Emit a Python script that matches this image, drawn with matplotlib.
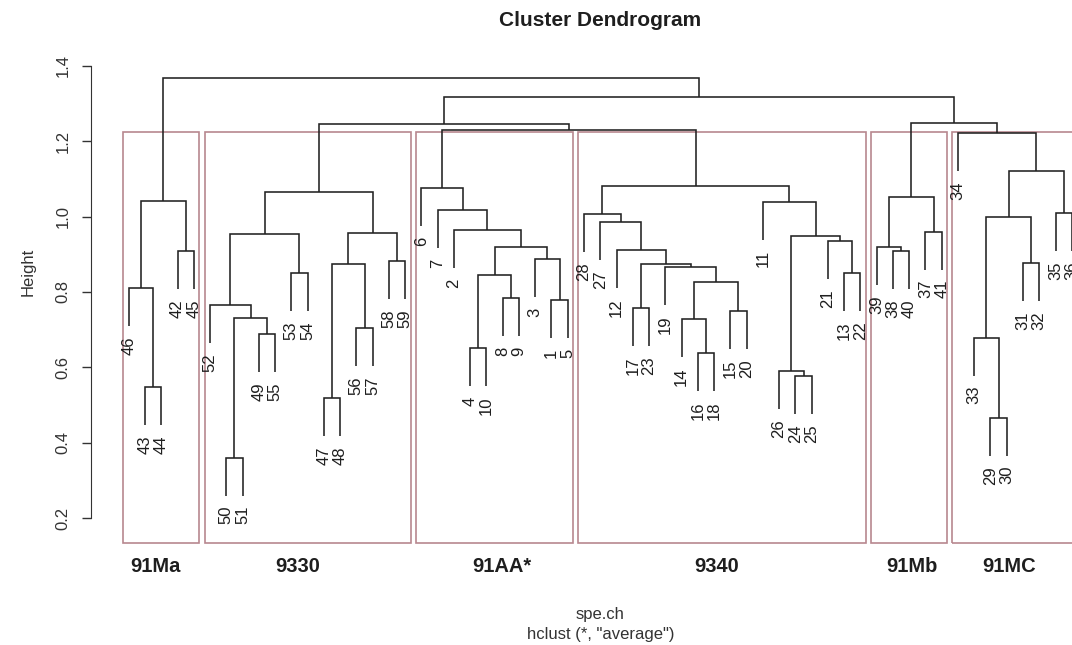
import matplotlib
matplotlib.use("Agg")
import matplotlib.pyplot as plt
from matplotlib.patches import Rectangle

plt.rcParams["font.family"] = ["Liberation Sans", "DejaVu Sans"]

# leaf order as drawn, left to right
leaf_order = [46, 43, 44, 42, 45,
              52, 50, 51, 49, 55, 53, 54, 47, 48, 56, 57, 58, 59,
              6, 7, 2, 4, 10, 8, 9, 3, 1, 5,
              28, 27, 12, 17, 23, 19, 14, 16, 18, 15, 20, 11, 26, 24, 25, 21, 13, 22,
              39, 38, 40, 37, 41,
              34, 33, 29, 30, 31, 32, 35, 36]

# R-style merge table: negative = sample id, positive = earlier step (1-based)
merge_pairs = [
    (-43, -44), (-46, 1), (-42, -45), (2, 3),                      # 1-4
    (-50, -51), (-49, -55), (5, 6), (-52, 7), (-53, -54), (8, 9),  # 5-10
    (-47, -48), (-56, -57), (11, 12), (-58, -59), (13, 14), (10, 15),  # 11-16
    (-4, -10), (-8, -9), (17, 18), (-1, -5), (-3, 20), (19, 21),   # 17-22
    (-2, 22), (-7, 23), (-6, 24),                                  # 23-25
    (-17, -23), (-16, -18), (-14, 27), (-15, -20), (28, 29),       # 26-30
    (-19, 30), (26, 31), (-12, 32), (-27, 33), (-28, 34),          # 31-35
    (-24, -25), (-26, 36), (-13, -22), (-21, 38), (37, 39),        # 36-40
    (-11, 40), (35, 41),                                           # 41-42
    (-38, -40), (-39, 43), (-37, -41), (44, 45),                   # 43-46
    (-29, -30), (-33, 47), (-31, -32), (48, 49), (-35, -36),       # 47-51
    (50, 51), (-34, 52),                                           # 52-53
    (25, 42), (16, 54), (46, 53), (55, 56), (4, 57),               # 54-58
]
merge_heights = [
    0.547, 0.810, 0.908, 1.042,
    0.361, 0.689, 0.730, 0.766, 0.851, 0.953,
    0.518, 0.704, 0.873, 0.882, 0.957, 1.064,
    0.651, 0.783, 0.845, 0.779, 0.887, 0.920,
    0.963, 1.017, 1.075,
    0.757, 0.6375, 0.7285, 0.750, 0.827,
    0.867, 0.8735, 0.911, 0.986, 1.007,
    0.577, 0.591, 0.851, 0.936, 0.949,
    1.039, 1.081,
    0.908, 0.920, 0.960, 1.051,
    0.467, 0.679, 0.876, 0.998, 1.009,
    1.122, 1.221,
    1.229, 1.245, 1.247, 1.318, 1.367,
]

group_names = ["91Ma", "9330", "91AA*", "9340", "91Mb", "91MC"]
group_sizes = [5, 13, 10, 18, 5, 8]
group_label_at = [2.62, 11.41, 23.96, 37.18, 49.17, 55.14]

LINE = "#222222"
BOX = "#b8878f"
TXT = "#1e1e1e"

fig = plt.figure(figsize=(10.72, 6.45), dpi=100)
ax = fig.add_axes([0.0849, 0.1577, 0.9501, 0.7487])
ax.set_xlim(-1.32, 61.32)
ax.set_ylim(0.1338, 1.414)

pos = {lab: i + 1 for i, lab in enumerate(leaf_order)}
hang = 0.1 * (max(merge_heights) - min(merge_heights))
node_x, node_y = {}, {}
leaf_ends = []
for step, ((a, b), h) in enumerate(zip(merge_pairs, merge_heights), start=1):
    ends = []
    for c in (a, b):
        if c < 0:
            x, y0 = pos[-c], h - hang
            leaf_ends.append((-c, x, y0))
        else:
            x, y0 = node_x[c], node_y[c]
        ends.append((x, y0))
    (x1, y1), (x2, y2) = ends
    ax.plot([x1, x1, x2, x2], [y1, h, h, y2], color=LINE, lw=1.15,
            solid_joinstyle="miter", solid_capstyle="butt")
    node_x[step] = (x1 + x2) / 2
    node_y[step] = h

for lab, x, y0 in leaf_ends:
    ax.annotate(str(lab), (x, y0), xytext=(0, -7.5), textcoords="offset points",
                rotation=90, ha="center", va="top", fontsize=12, color=TXT)

# rect.hclust style boxes
hs = sorted(merge_heights, reverse=True)
k = len(group_sizes)
box_top = (hs[k - 2] + hs[k - 1]) / 2
y_bot = ax.get_ylim()[0]
m = [0]
for s in group_sizes:
    m.append(m[-1] + s)
for i in range(k):
    x0, x1 = m[i] + 0.66, m[i + 1] + 0.33
    ax.add_patch(Rectangle((x0, y_bot), x1 - x0, box_top - y_bot, fill=False,
                           edgecolor=BOX, lw=1.2, clip_on=False))

ax.set_xticks(group_label_at, group_names, fontweight="bold", fontsize=14.5, color=TXT)
ax.tick_params(axis="x", length=0, pad=10)

ax.set_yticks([0.2, 0.4, 0.6, 0.8, 1.0, 1.2, 1.4])
ax.set_yticklabels(["0.2", "0.4", "0.6", "0.8", "1.0", "1.2", "1.4"],
                   rotation=90, va="center", fontsize=12, color="#333333")
ax.tick_params(axis="y", direction="out", length=6.5, width=1, color="#333333", pad=8)
for s in ("top", "right", "bottom"):
    ax.spines[s].set_visible(False)
ax.spines["left"].set_bounds(0.2, 1.4)
ax.spines["left"].set_color("#333333")

fig.text(0.56, 1 - 20 / 645, "Cluster Dendrogram", ha="center", va="center",
         fontsize=15, fontweight="bold", color=TXT)
fig.text(28 / 1072, 1 - 272 / 645, "Height", rotation=90, ha="center", va="center",
         fontsize=12, color="#333333")
fig.text(0.56, 1 - 614 / 645, "spe.ch", ha="center", va="center", fontsize=12, color="#333333")
fig.text(0.56, 1 - 634 / 645, 'hclust (*, "average")', ha="center", va="center",
         fontsize=12, color="#333333")

fig.savefig("out.png", dpi=100)
